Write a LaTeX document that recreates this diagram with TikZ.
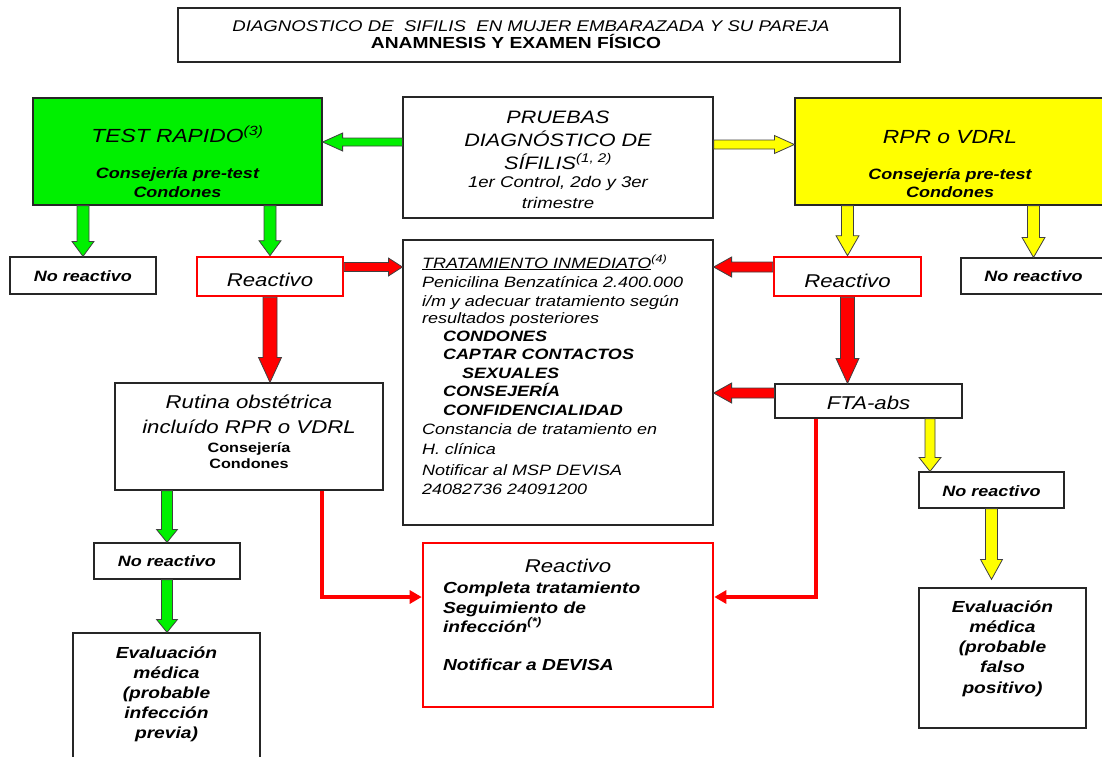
\documentclass[tikz,border=0pt]{standalone}
\usepackage{fontspec}
\setmainfont{Liberation Sans}[FakeStretch=1.2]
\usetikzlibrary{calc,arrows.meta}
\definecolor{boxgreen}{HTML}{00F000}
\definecolor{boxyellow}{HTML}{FFFF00}
\definecolor{boxred}{HTML}{FF0000}
\newcommand\bx[3]{\begin{minipage}[c][#2][t]{#1}\lineskiplimit=-100pt\relax #3\end{minipage}}
\newcommand\tfirst[3]{{\fontsize{#1}{#1}\selectfont\rule{0pt}{#2pt}#3\par}}
\newcommand\tline[3]{{\fontsize{#1}{#2}\selectfont #3\par}}
\newcommand\barrow[6]{%
  \filldraw[fill=#1, draw=black!75, line width=0.8pt, line join=miter]
  let \p1=#5, \p2=#6, \n1={atan2(\y2-\y1,\x2-\x1)} in
  ($(\p1)+({\n1+90}:#2)$) -- ($(\p2)+({\n1+180}:#4)+({\n1+90}:#2)$) --
  ($(\p2)+({\n1+180}:#4)+({\n1+90}:#3)$) -- (\p2) --
  ($(\p2)+({\n1+180}:#4)+({\n1-90}:#3)$) -- ($(\p2)+({\n1+180}:#4)+({\n1-90}:#2)$) --
  ($(\p1)+({\n1-90}:#2)$) -- cycle;}
\tikzset{
  box/.style={draw=black!85, line width=1.2pt, inner sep=0pt, fill=white},
  redbox/.style={draw=boxred, line width=2.6pt, inner sep=0pt, fill=white},
  redline/.style={draw=boxred, line width=4.5pt, -{Triangle[length=12pt,width=13pt]}}
}
\begin{document}
\begin{tikzpicture}[x=1pt,y=-1pt]
\useasboundingbox (0,0) rectangle (1102,756);
% nodes
\node[box] (title) at (539,35) {\bx{722pt}{54pt}{\centering
  \tfirst{15.5}{23}{\hspace*{-16pt}\itshape DIAGNOSTICO DE\ \ SIFILIS\ \ EN MUJER EMBARAZADA Y SU PAREJA}
  \tline{16}{17}{\hspace*{-46pt}\bfseries ANAMNESIS Y EXAMEN FÍSICO}}};
\node[box, fill=boxgreen] (tr) at (177.5,151.5) {\bx{289pt}{107pt}{\centering
  \tfirst{19}{44}{\itshape TEST RAPIDO\textsuperscript{(3)}}
  \tline{15}{36}{\bfseries\itshape Consejería pre-test}
  \tline{15}{19}{\bfseries\itshape Condones}}};
\node[box] (pr) at (558,157.5) {\bx{310pt}{121pt}{\centering\itshape
  \tfirst{18}{26}{PRUEBAS}
  \tline{18}{23}{DIAGNÓSTICO DE}
  \tline{18}{23}{SÍFILIS\textsuperscript{(1, 2)}}
  \tline{15.5}{18}{1er Control, 2do y 3er}
  \tline{15.5}{21}{trimestre}}};
\node[box, fill=boxyellow] (rpr) at (950,151.5) {\bx{310pt}{107pt}{\centering
  \tfirst{19}{45}{\itshape RPR o VDRL}
  \tline{15}{36}{\bfseries\itshape Consejería pre-test}
  \tline{15}{18}{\bfseries\itshape Condones}}};
\node[box] (nr1) at (83,275.5) {\bx{146pt}{37pt}{\centering\tfirst{15}{24}{\bfseries\itshape No reactivo}}};
\node[redbox] (re1) at (270,276.5) {\bx{146pt}{39pt}{\centering\tfirst{18.5}{29}{\itshape Reactivo}}};
\node[redbox] (re2) at (847.5,276.5) {\bx{147pt}{39pt}{\centering\tfirst{18.5}{30}{\itshape Reactivo}}};
\node[box] (nr2) at (1033.5,276) {\bx{145pt}{36pt}{\centering\tfirst{15}{23}{\bfseries\itshape No reactivo}}};
\node[box] (trat) at (558,382.5) {\bx{310pt}{285pt}{\raggedright\leftskip=19pt\itshape
  \tfirst{15}{28}{\underline{TRATAMIENTO INMEDIATO}\textsuperscript{(4)}}
  \tline{15}{19}{Penicilina Benzatínica 2.400.000}
  \tline{15}{19}{i/m y adecuar tratamiento según}
  \tline{15}{17}{resultados posteriores}
  \tline{15}{18}{\hspace*{21pt}\bfseries CONDONES}
  \tline{15}{18}{\hspace*{21pt}\bfseries CAPTAR CONTACTOS}
  \tline{15}{19}{\hspace*{40pt}\bfseries SEXUALES}
  \tline{15}{18}{\hspace*{21pt}\bfseries CONSEJERÍA}
  \tline{15}{19}{\hspace*{21pt}\bfseries CONFIDENCIALIDAD}
  \tline{15}{19}{Constancia de tratamiento en}
  \tline{15}{20}{H. clínica}
  \tline{15}{21}{Notificar al MSP DEVISA}
  \tline{15}{19}{24082736 24091200}}};
\node[box] (rut) at (249,436.5) {\bx{268pt}{107pt}{\centering
  \tfirst{18.5}{25}{\itshape Rutina obstétrica}
  \tline{18.5}{25}{\itshape incluído RPR o VDRL}
  \tline{13.5}{19}{\bfseries Consejería}
  \tline{13.5}{16.5}{\bfseries Condones}}};
\node[box] (fta) at (868.5,401) {\bx{187pt}{34pt}{\centering\tfirst{18.5}{25}{\itshape FTA-abs}}};
\node[box] (nr3) at (991.5,490) {\bx{145pt}{36pt}{\centering\tfirst{15}{24}{\bfseries\itshape No reactivo}}};
\node[box] (ev2) at (1002.5,658) {\bx{167pt}{140pt}{\centering\bfseries\itshape
  \tfirst{16}{24}{Evaluación}
  \tline{16}{20.3}{médica}
  \tline{16}{20.3}{(probable}
  \tline{16}{20.3}{falso}
  \tline{16}{20.3}{positivo)}}};
\node[box] (nr4) at (167,561) {\bx{146pt}{36pt}{\centering\tfirst{15}{23}{\bfseries\itshape No reactivo}}};
\node[box] (ev1) at (166.5,698) {\bx{187pt}{130pt}{\centering\bfseries\itshape
  \tfirst{16}{25}{Evaluación}
  \tline{16}{20}{médica}
  \tline{16}{20}{(probable}
  \tline{16}{20}{infección}
  \tline{16}{20}{previa)}}};
\node[redbox] (re3) at (568,625) {\bx{290pt}{164pt}{%
  \tfirst{18.5}{29}{\centering\itshape Reactivo}
  \raggedright\leftskip=20pt\bfseries\itshape
  \tline{16}{21}{Completa tratamiento}
  \tline{16}{20}{Seguimiento de}
  \tline{16}{19}{infección\textsuperscript{(*)}}
  \tline{16}{38}{Notificar a DEVISA}}};
% block arrows
\coordinate (g1s) at ([yshift=15.5pt]pr.west);
\barrow{boxgreen}{4pt}{9pt}{20pt}{(g1s)}{(tr.east |- g1s)}
\coordinate (y1s) at ([yshift=13pt]pr.east);
\barrow{boxyellow}{4.5pt}{9pt}{20pt}{(y1s)}{(rpr.west |- y1s)}
\barrow{boxgreen}{6pt}{11pt}{15pt}{(tr.south -| nr1.north)}{(nr1.north)}
\barrow{boxgreen}{6pt}{11pt}{15pt}{(tr.south -| re1.north)}{(re1.north)}
\barrow{boxyellow}{6pt}{11.5pt}{20pt}{(rpr.south -| re2.north)}{(re2.north)}
\barrow{boxyellow}{6pt}{11.5pt}{20pt}{(rpr.south -| nr2.north)}{(nr2.north)}
\coordinate (r1s) at ([yshift=9.5pt]re1.east);
\barrow{boxred}{4.5pt}{9pt}{14pt}{(r1s)}{(trat.west |- r1s)}
\coordinate (r2s) at ([yshift=9.5pt]re2.west);
\barrow{boxred}{5pt}{10pt}{18pt}{(r2s)}{(trat.east |- r2s)}
\coordinate (r3s) at ([yshift=8pt]fta.west);
\barrow{boxred}{5pt}{10pt}{18pt}{(r3s)}{(trat.east |- r3s)}
\barrow{boxred}{7pt}{11.5pt}{25pt}{(re1.south)}{(rut.north -| re1.south)}
\barrow{boxred}{7pt}{11.5pt}{25pt}{(re2.south)}{(fta.north -| re2.south)}
\barrow{boxgreen}{5.5pt}{10.5pt}{13pt}{(rut.south -| nr4.north)}{(nr4.north)}
\barrow{boxgreen}{5.5pt}{10.5pt}{13pt}{(nr4.south)}{(ev1.north -| nr4.south)}
\coordinate (y3s) at ([xshift=61.5pt]fta.south);
\barrow{boxyellow}{5pt}{11pt}{14pt}{(y3s)}{(nr3.north -| y3s)}
\coordinate (y4e) at ($(ev2.north -| nr3.south)+(0,-8)$);
\barrow{boxyellow}{6pt}{11pt}{20pt}{(nr3.south)}{(y4e)}
% red lines
\coordinate (l1) at ([xshift=73pt]rut.south);
\draw[redline] (l1) |- ([yshift=28pt]re3.west);
\coordinate (l2) at ([xshift=-52.5pt]fta.south);
\draw[redline] (l2) |- ([yshift=28pt]re3.east);
\end{tikzpicture}
\end{document}
